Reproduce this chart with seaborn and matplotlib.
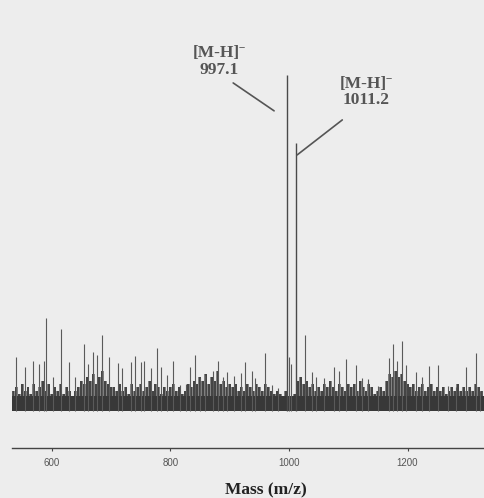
import numpy as np
import matplotlib
matplotlib.use("Agg")
import matplotlib.pyplot as plt
import seaborn as sns

# main ions
peak_mz = [997.1, 1011.2]
peak_int = [100.0, 79.8]
peak_labels = ["[M-H]\u02c9\n997.1", "[M-H]\u02c9\n1011.2"]

# taller noise spikes (m/z, relative intensity %)
spike_mz = [540, 555, 568, 578, 587, 591, 602, 615, 629, 640, 654, 661, 669, 676,
            684, 697, 711, 719, 733, 741, 751, 756, 768, 778, 785, 795, 805, 817,
            827, 834, 842, 850, 859, 872, 881, 889, 896, 908, 919, 926, 938, 943,
            960, 971, 981, 1000, 1004, 1027, 1039, 1046, 1059, 1076, 1084, 1096,
            1113, 1123, 1134, 1150, 1168, 1175, 1182, 1190, 1197, 1214, 1224, 1237,
            1252, 1269, 1281, 1298, 1316, 1323]
spike_int = [16, 13, 15, 14, 15, 27.7, 10, 24.4, 14.6, 10, 20, 14, 17.6, 16.7,
             22.6, 16, 14.3, 12.8, 14.6, 16.4, 14.6, 15, 12.8, 18.8, 13, 10.7, 15, 7.7,
             8, 13, 16.7, 9.8, 10.7, 12, 15, 10, 11.6, 10.4, 11.3, 14.6, 12, 9.8,
             17.3, 7.7, 6.8, 16, 14, 22.6, 11.6, 10, 9.8, 13, 12, 15.5,
             13.7, 9.8, 9.5, 7.4, 15.8, 20, 15, 20.8, 13.7, 11.6, 10, 13.4,
             13.7, 7.4, 7.1, 13, 17.3, 6]

# dense chemical-noise floor, one value every 5 m/z from 535 to 1325
floor_int = [6, 7, 5, 8, 6, 7,
             5, 8, 6, 7, 9, 6, 8, 5,
             7, 6, 8, 5, 7, 6, 4, 6,
             7, 9, 8, 10, 9, 11, 8, 10, 12, 9, 8, 7,
             7, 6, 8, 6, 7, 5, 8, 6, 7, 8,
             6, 7, 9, 6, 8, 7, 5, 7, 6, 7,
             8, 6, 7, 5, 6, 8, 7, 9, 8, 10,
             9, 11, 8, 10, 9, 12, 8, 9, 7, 8,
             7, 8, 6, 7, 6, 8, 7, 6, 8, 7,
             6, 8, 7, 6, 5, 6, 5, 4, 6, 4,
             3, 5, 9, 10, 8, 9, 7, 8, 6, 7,
             6, 8, 7, 9, 7, 6, 8, 7, 6, 8,
             7, 8, 6, 9, 7, 6, 8, 7, 5, 6,
             7, 6, 9, 11, 10, 12, 10, 11, 9, 8,
             7, 8, 6, 7, 8, 6, 7, 8, 6, 7,
             6, 7, 5, 6, 7, 6, 8, 6, 7, 6,
             7, 6, 8, 7, 6]
floor_mz = np.arange(535, 1326, 5)

tick_vals = [600, 800, 1000, 1200]

sns.set_theme(style="white")
bg = "#ededed"
ink = "#383838"

fig = plt.figure(figsize=(4.84, 4.98), dpi=100, facecolor=bg)
ax = fig.add_axes([12 / 484, 50 / 498, 472 / 484, 438 / 498], facecolor=bg)

# noise floor: grey envelope, dark solid base, fine sticks
ax.fill_between(floor_mz, 0, floor_int, step="mid", color="#5e5e5e", alpha=0.75, lw=0)
ax.fill_between([533, 1329], 0, 4.5, color=ink, lw=0)
ax.vlines(floor_mz, 0, floor_int, color=ink, lw=1.2)
ax.vlines(spike_mz, 0, spike_int, color="#5a5a5a", lw=0.8)

# molecular ions
ax.vlines(peak_mz, 0, peak_int, color="#4a4a4a", lw=1.0)

# labels with leader lines
label_pos = [(882, 103.9), (1130, 94.9)]
lead_from = [(906, 97.6), (1090, 86.6)]
lead_to = [(975, 89.3), (1014, 76.2)]
for lab, (tx, ty), (x0, y0), (x1, y1) in zip(peak_labels, label_pos, lead_from, lead_to):
    ax.text(tx, ty, lab, ha="center", va="center", fontsize=12.5, fontweight="bold",
            family=["Liberation Serif", "DejaVu Serif"], color="#555555", linespacing=1.05)
    ax.plot([x0, x1], [y0, y1], color="#555555", lw=1.2)

ax.set_xlim(533, 1329)
ax.set_ylim(-11, 119.3)
ax.set_xticks(tick_vals)
ax.set_yticks([])
for s in ["top", "right", "left"]:
    ax.spines[s].set_visible(False)
ax.spines["bottom"].set_color("#444444")
ax.spines["bottom"].set_linewidth(1.0)
ax.tick_params(axis="x", bottom=True, direction="out", length=2.5, width=0.8,
               color="#444444", pad=4.5, labelsize=7, labelcolor="#555555")
for t in ax.get_xticklabels():
    t.set_family(["Liberation Sans", "DejaVu Sans"])

fig.text(266 / 484, 1 - 490 / 498, "Mass (m/z)", ha="center", va="center",
         fontsize=12.5, fontweight="bold", family=["Liberation Serif", "DejaVu Serif"],
         color="#222222")

fig.savefig("out.png", dpi=100, facecolor=bg)
